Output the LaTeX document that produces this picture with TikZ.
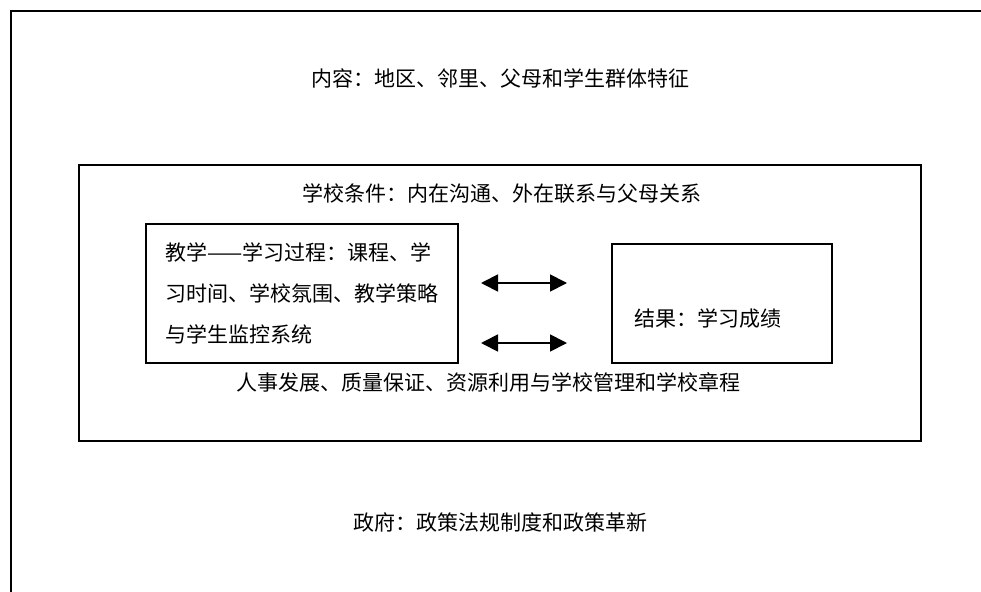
\documentclass[tikz,border=0pt]{standalone}
\usepackage{fontspec}
\setmainfont{Noto Sans CJK SC}
\usepackage{tikz}
\usetikzlibrary{arrows.meta, positioning}

\begin{document}
\begin{tikzpicture}[
    x=1pt, y=-1pt,
    frame/.style={rectangle, draw=black, line width=1.6pt, inner sep=0pt},
    box/.style={rectangle, draw=black, line width=1.4pt, align=left, inner sep=0pt},
    label/.style={font=\fontsize{21}{41}\selectfont, inner sep=0pt},
    biarrow/.style={{Triangle[length=17pt, width=17pt]}-{Triangle[length=17pt, width=17pt]}, line width=1.8pt}
]
\useasboundingbox (0,0) rectangle (981,591);

% Frames
\node[frame, minimum width=979pt, minimum height=589pt] (context) at (500.5,305.5) {};
\node[frame, minimum width=842pt, minimum height=276pt] (school) at (500,303) {};
\node[box, label, minimum width=312pt, minimum height=139pt] (teach) at (302,293.5)
    {教学——学习过程：课程、学\\习时间、学校氛围、教学策略\\与学生监控系统};
\node[box, minimum width=220pt, minimum height=119pt] (result) at (722,303.5) {};

% Labels
\node[label] (contexttxt) at (500,78) {内容：地区、邻里、父母和学生群体特征};
\node[label] (schooltxt) at (502,194) {学校条件：内在沟通、外在联系与父母关系};
\node[label] (resulttxt) at (708,318) {结果：学习成绩};
\node[label] (stafftxt) at (488,382) {人事发展、质量保证、资源利用与学校管理和学校章程};
\node[label] (govtxt) at (500,522) {政府：政策法规制度和政策革新};

% Arrows
\coordinate (a1l) at (481,283);
\coordinate (a1r) at (567,283);
\coordinate (a2l) at (481,343);
\coordinate (a2r) at (567,343);
\draw[biarrow] (a1l) -- (a1r);
\draw[biarrow] (a2l) -- (a2r);

\end{tikzpicture}
\end{document}
